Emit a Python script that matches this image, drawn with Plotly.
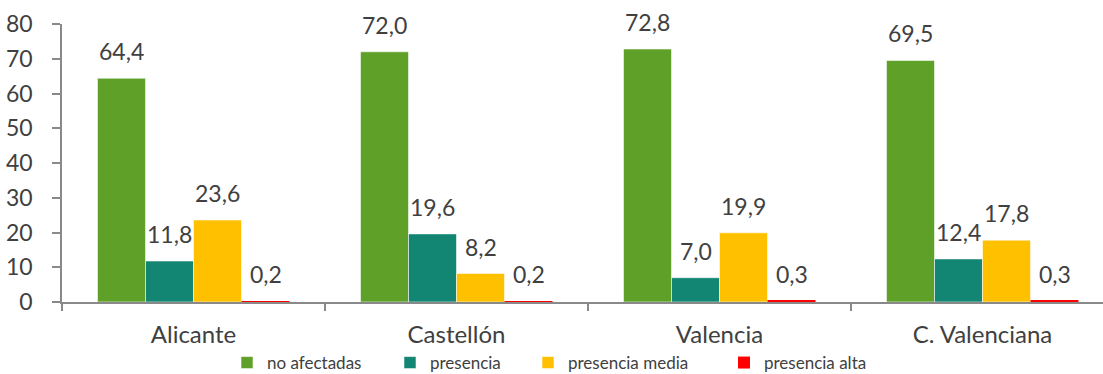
import plotly.graph_objects as go

# Categories and series values (percentages)
provincias = ["Alicante", "Castellón", "Valencia", "C. Valenciana"]
series_names = ["no afectadas", "presencia", "presencia media", "presencia alta"]
no_afectadas = [64.4, 72.0, 72.8, 69.5]
presencia = [11.8, 19.6, 7.0, 12.4]
presencia_media = [23.6, 8.2, 19.9, 17.8]
presencia_alta = [0.2, 0.2, 0.3, 0.3]
y_ticks = [0, 10, 20, 30, 40, 50, 60, 70, 80]

colors = ["#5FA128", "#138673", "#FFC000", "#FF0000"]
border_widths = [1, 1, 1, 0]
series_values = [no_afectadas, presencia, presencia_media, presencia_alta]

FONT = "Lato"
TEXT_COLOR = "#404040"
AXIS_COLOR = "#898989"

W, H = 1103, 374
M_L, M_R, M_T, M_B = 62, 0, 24, 72
BARGAP = 0.27
n_series = len(series_values)
bar_w = (1 - BARGAP) / n_series

fig = go.Figure()
legend_ids = ["legend", "legend2", "legend3", "legend4"]
for name, vals, col, bw, lg in zip(series_names, series_values, colors, border_widths, legend_ids):
    fig.add_trace(go.Bar(
        name=name, x=provincias, y=vals,
        marker=dict(color=col, line=dict(color="rgba(255,255,255,0.55)", width=bw)),
        legend=lg,
    ))

# Value labels above each bar
for j, vals in enumerate(series_values):
    for i, v in enumerate(vals):
        fig.add_annotation(
            x=i + (j - (n_series - 1) / 2) * bar_w, y=v,
            xref="x", yref="y",
            text=f"{v:.1f}".replace(".", ","),
            showarrow=False, yanchor="bottom", yshift=11,
            font=dict(family=FONT, size=23, color=TEXT_COLOR),
        )

# Legend entries placed individually along the bottom (container coordinates)
legend_text_px = [269, 432, 570, 766]
legend_layout = {}
for lg, tx in zip(legend_ids, legend_text_px):
    legend_layout[lg] = dict(
        xref="container", yref="container",
        x=(tx - 42) / W, y=1 - 363 / H, xanchor="left", yanchor="middle",
        orientation="h", bgcolor="rgba(0,0,0,0)",
        font=dict(family=FONT, size=17, color=TEXT_COLOR),
    )

fig.update_layout(
    width=W, height=H,
    margin=dict(l=M_L, r=M_R, t=M_T, b=M_B, pad=0, autoexpand=False),
    paper_bgcolor="white", plot_bgcolor="white",
    barmode="group", bargap=BARGAP, bargroupgap=0,
    font=dict(family=FONT, color=TEXT_COLOR),
    showlegend=True,
    **legend_layout,
)

fig.update_xaxes(
    range=[-0.5, len(provincias) - 0.5 - 11 / 263],
    showline=True, linecolor=AXIS_COLOR, linewidth=1.5,
    ticks="outside", tickson="boundaries", ticklen=7, tickcolor=AXIS_COLOR, tickwidth=1.5,
    tickfont=dict(family=FONT, size=24, color=TEXT_COLOR),
    ticklabelstandoff=10,
    showgrid=False, zeroline=False,
)
fig.update_yaxes(
    range=[0, 80], tickvals=y_ticks,
    showline=True, linecolor=AXIS_COLOR, linewidth=1.5,
    ticks="outside", ticklen=8, tickcolor=AXIS_COLOR, tickwidth=1.5,
    tickfont=dict(family=FONT, size=23, color=TEXT_COLOR),
    ticklabelstandoff=15,
    showgrid=False, zeroline=False,
)

fig.write_html("out.html")
